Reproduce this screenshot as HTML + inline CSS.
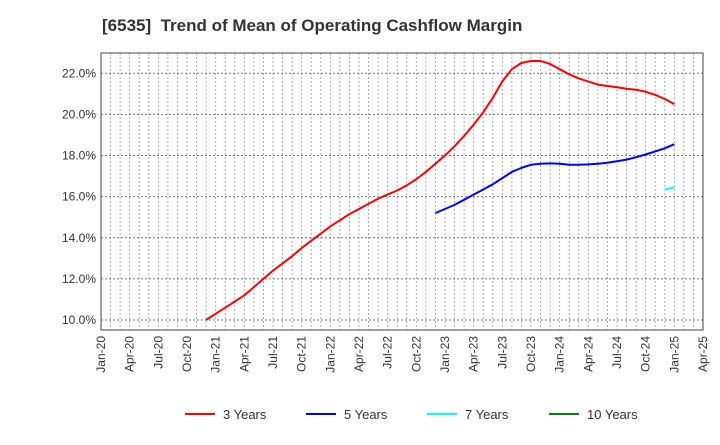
<!DOCTYPE html>
<html><head><meta charset="utf-8"><style>
body{margin:0;background:#fff;font-family:"Liberation Sans",sans-serif}
</style></head><body>
<svg width="720" height="440" xmlns="http://www.w3.org/2000/svg" font-family="Liberation Sans, sans-serif">
<text x="102" y="31" font-size="17" font-weight="bold" fill="#333" xml:space="preserve">[6535]  Trend of Mean of Operating Cashflow Margin</text>
<g id="grid"></g>
<rect x="101" y="53" width="602" height="277" fill="none" stroke="#444" stroke-width="1"/>
<g id="axes"></g>
<g id="series"></g>
<g id="legend"></g>
</svg>
<script>
const xLabels=["Jan-20","Apr-20","Jul-20","Oct-20","Jan-21","Apr-21","Jul-21","Oct-21","Jan-22","Apr-22","Jul-22","Oct-22","Jan-23","Apr-23","Jul-23","Oct-23","Jan-24","Apr-24","Jul-24","Oct-24","Jan-25","Apr-25"];
const yTicks=[10,12,14,16,18,20,22];
const red3=[10.0,10.3,10.6,10.9,11.2,11.6,12.0,12.4,12.75,13.1,13.5,13.85,14.2,14.55,14.85,15.15,15.4,15.65,15.9,16.1,16.3,16.55,16.85,17.2,17.6,18.0,18.45,18.95,19.5,20.1,20.8,21.6,22.2,22.5,22.6,22.6,22.45,22.2,21.95,21.75,21.6,21.45,21.38,21.32,21.25,21.2,21.1,20.95,20.75,20.5];
const red3Start=11;
const blue5=[15.2,15.4,15.6,15.85,16.1,16.35,16.6,16.9,17.2,17.4,17.55,17.6,17.62,17.6,17.55,17.55,17.57,17.6,17.65,17.72,17.8,17.92,18.05,18.2,18.35,18.55];
const blue5Start=35;
const cyan7=[16.35,16.45];
const cyan7Start=59;
const green10=[];
const green10Start=60;
const NS="http://www.w3.org/2000/svg";
const L=101,R=703,T=53,B=330;
const xm=m=>L+m*(R-L)/63;
const ys=v=>320-(v-10)*(320-73.3)/12;
function mk(t,a,p){const e=document.createElementNS(NS,t);for(const k in a)e.setAttribute(k,a[k]);p.appendChild(e);return e;}
const grid=document.getElementById('grid'),axes=document.getElementById('axes'),ser=document.getElementById('series'),leg=document.getElementById('legend');
for(let m=1;m<63;m++){const l=mk('line',{x1:xm(m),x2:xm(m),y1:T,y2:B,stroke:'#999','stroke-dasharray':'2,2','stroke-width':0.8},grid);

}
for(const v of yTicks){const l=mk('line',{x1:L,x2:R,y1:ys(v),y2:ys(v),stroke:'#777','stroke-dasharray':'2,2','stroke-width':1},grid);


const t=mk('text',{x:L-5,y:ys(v)+4,'text-anchor':'end','font-size':12,fill:'#333'},axes);t.textContent=v.toFixed(1)+'%';

}
xLabels.forEach((s,i)=>{const x=xm(i*3);const t=mk('text',{x:0,y:0,transform:`translate(${x+4},336) rotate(-90)`,'text-anchor':'end','font-size':12,fill:'#333'},axes);t.textContent=s;

});
function line(d,s,c,n){if(!d.length)return;const p=mk('polyline',{points:d.map((v,i)=>xm(s+i)+','+ys(v)).join(' '),fill:'none',stroke:c,'stroke-width':2,'stroke-linejoin':'round'},ser);

}
line(red3,red3Start,'#f00','series-3-years');
line(blue5,blue5Start,'#00f','series-5-years');
line(cyan7,cyan7Start,'#0ff','series-7-years');
line(green10,green10Start,'#080','series-10-years');
[["3 Years","#f00",185],["5 Years","#00f",306],["7 Years","#0ff",427],["10 Years","#080",549]].forEach(([n,c,x])=>{
const g=mk('g',{},leg);


mk('line',{x1:x,x2:x+30,y1:414,y2:414,stroke:c,'stroke-width':2},g);
const t=mk('text',{x:x+38,y:419,'font-size':13,fill:'#333'},g);t.textContent=n;});
</script>
</body></html>
